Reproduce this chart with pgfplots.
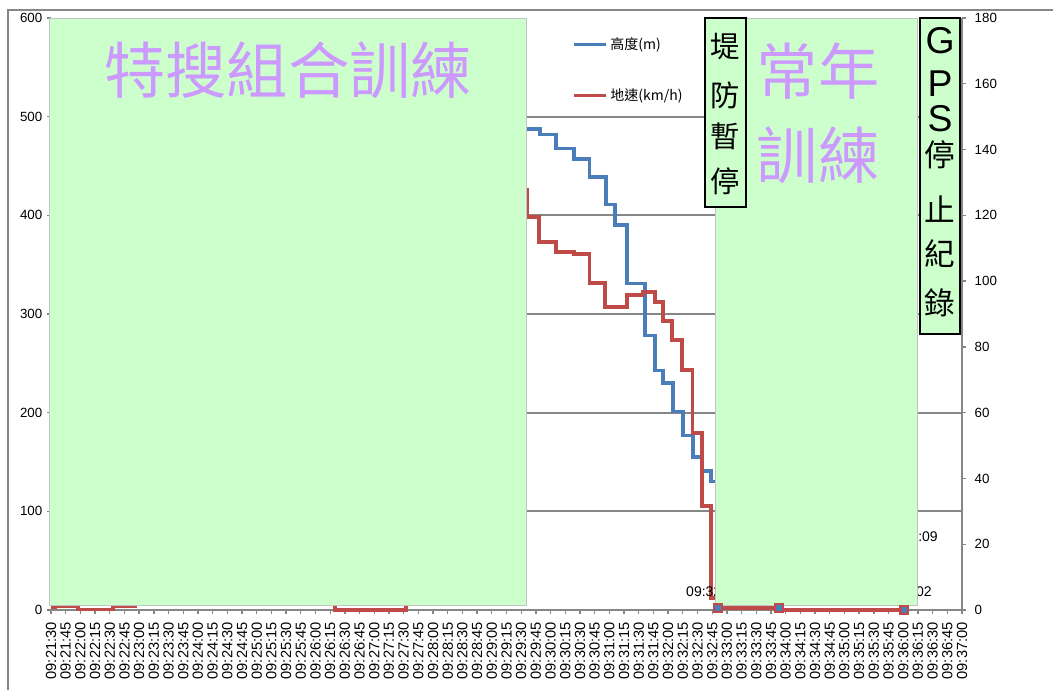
\documentclass[border=0pt]{standalone}
\usepackage{pgfplots}
\pgfplotsset{compat=1.18}
\usepackage{fontspec}
\setmainfont{Liberation Sans}
\newfontfamily\cjk{Noto Sans CJK TC}
\definecolor{bl}{RGB}{74,126,187}
\definecolor{rd}{RGB}{190,75,72}
\definecolor{gr}{RGB}{204,255,204}
\definecolor{pu}{RGB}{204,153,255}
\definecolor{gy}{RGB}{134,134,134}
\pgfplotsset{
  myaxis/.style={at={(38.25pt,59.25pt)}, anchor=south west, scale only axis,
    width=683.25pt, height=444pt, xmin=0, xmax=930},
}
\begin{document}
\begin{tikzpicture}
\useasboundingbox (0,0) rectangle (789.75pt,516.75pt);
\draw[gy, line width=1.5pt] (6pt,-5pt) -- (6pt,509.25pt) -- (800pt,509.25pt);
% ---------- left axis: altitude ----------
\begin{axis}[myaxis,
  ymin=0, ymax=600,
  axis x line*=bottom, axis y line*=left,
  x axis line style={gy, line width=1.5pt, -},
  y axis line style={draw=none, -},
  xtick={0,15,...,930},
  xticklabels={09:21:30,09:21:45,09:22:00,09:22:15,09:22:30,09:22:45,09:23:00,09:23:15,09:23:30,09:23:45,09:24:00,09:24:15,09:24:30,09:24:45,09:25:00,09:25:15,09:25:30,09:25:45,09:26:00,09:26:15,09:26:30,09:26:45,09:27:00,09:27:15,09:27:30,09:27:45,09:28:00,09:28:15,09:28:30,09:28:45,09:29:00,09:29:15,09:29:30,09:29:45,09:30:00,09:30:15,09:30:30,09:30:45,09:31:00,09:31:15,09:31:30,09:31:45,09:32:00,09:32:15,09:32:30,09:32:45,09:33:00,09:33:15,09:33:30,09:33:45,09:34:00,09:34:15,09:34:30,09:34:45,09:35:00,09:35:15,09:35:30,09:35:45,09:36:00,09:36:15,09:36:30,09:36:45,09:37:00},
  ytick={0,100,...,600},
  tick align=outside, major tick length=3pt,
  tick style={gy, line width=1pt},
  xticklabel shift=4pt,
  xticklabel style={rotate=90, anchor=east, font=\fontsize{11}{12}\selectfont, inner sep=2pt},
  yticklabel style={font=\fontsize{10}{12}\selectfont},
  /pgf/number format/assume math mode=true,
  extra y ticks={100,200,300,400,500}, extra y tick labels={},
  extra y tick style={grid=major, major tick length=0pt, major grid style={gy, line width=1.3pt}},
]
\addplot[bl, line width=2.6pt, const plot, mark=none] coordinates {
(440,487.5)(499,482)(515.5,468)(534,457)(550,439)(566.6,411)(575.7,390)(588,331)
(606.4,278)(616.6,243)(624.7,230)(634.9,201)(645.2,177)(655.4,155)(664.6,141)(673.8,130)(681,1)};
\end{axis}
% ---------- right axis: ground speed ----------
\begin{axis}[myaxis,
  ymin=0, ymax=180,
  axis y line*=right, axis x line=none,
  y axis line style={gy, line width=1.5pt, -},
  ytick={0,20,...,180},
  tick align=outside, major tick length=3pt,
  tick style={gy, line width=1pt},
  yticklabel style={font=\fontsize{10}{12}\selectfont, xshift=3pt},
  /pgf/number format/assume math mode=true,
  clip=false,
  legend style={at={(rel axis cs:0.572,0.972)}, anchor=north west, draw=none, fill=none,
    font=\cjk\fontsize{10.5}{12}\selectfont, row sep=24pt, inner sep=0pt,
    cells={anchor=west}},
  legend image code/.code={\draw[#1] (0pt,0pt) -- (24pt,0pt);},
]
\addlegendimage{bl, line width=2.6pt}
\addlegendentry{高度(m)}
\addlegendimage{rd, line width=2.6pt}
\addlegendentry{地速(km/h)}
\addplot[rd, line width=2.6pt, const plot, mark=none, forget plot] coordinates {
(0,0.9)(4,1.2)(27.6,0.1)(63.3,1.2)(85.7,40)(290,0)(362.4,90)(440,127.7)
(486,119.5)(498,111.9)(515.5,108.9)(534,108.2)(550,99.4)(565.5,92.1)(588,95.8)(604.3,96.7)
(616.5,93.6)(624.7,87.9)(634,82.1)(644,73.0)(655,53.8)(664.6,31.6)(673.8,3.6)(681,0.6)(743,0)(871,0)};
% data labels (partly covered)
\node[anchor=west, font=\fontsize{10.5}{12}\selectfont, inner sep=0pt] at (rel axis cs:0.697,0.0304) {09:32:56};
\node[anchor=east, font=\fontsize{10.5}{12}\selectfont, inner sep=0pt] at (rel axis cs:0.9737,0.1233) {09:36:09};
\node[anchor=east, font=\fontsize{10.5}{12}\selectfont, inner sep=0pt] at (rel axis cs:0.9671,0.0304) {09:36:02};
% green areas
\filldraw[fill=gr, draw=gy!50, line width=0.4pt] (rel axis cs:-0.0022,0.00845) rectangle (rel axis cs:0.5214,1);
\filldraw[fill=gr, draw=gy!50, line width=0.4pt] (rel axis cs:0.7289,0.00845) rectangle (rel axis cs:0.9506,1);
\filldraw[fill=gr, draw=black, line width=1.5pt] (rel axis cs:0.7179,0.6807) rectangle (rel axis cs:0.7629,1);
\filldraw[fill=gr, draw=black, line width=1.5pt] (rel axis cs:0.9539,0.4662) rectangle (rel axis cs:0.9978,1);
% big labels
\node[pu, font=\cjk\fontsize{46}{46}\selectfont, inner sep=0pt] at (rel axis cs:0.2602,0.9122) {特搜組合訓練};
\node[pu, font=\cjk\fontsize{46}{46}\selectfont, inner sep=0pt] at (rel axis cs:0.842,0.9105) {常年};
\node[pu, font=\cjk\fontsize{46}{46}\selectfont, inner sep=0pt] at (rel axis cs:0.842,0.7686) {訓練};
% box 1
\node[font=\cjk\fontsize{22}{22}\selectfont, inner sep=0pt] at (rel axis cs:0.7398,0.951) {堤};
\node[font=\cjk\fontsize{22}{22}\selectfont, inner sep=0pt] at (rel axis cs:0.7398,0.870) {防};
\node[font=\cjk\fontsize{22}{22}\selectfont, inner sep=0pt] at (rel axis cs:0.7398,0.8007) {暫};
\node[font=\cjk\fontsize{22}{22}\selectfont, inner sep=0pt] at (rel axis cs:0.7398,0.7247) {停};
% box 2
\node[font=\fontsize{28}{28}\selectfont, inner sep=0pt] at (rel axis cs:0.9759,0.961) {G};
\node[font=\fontsize{28}{28}\selectfont, inner sep=0pt] at (rel axis cs:0.9759,0.8885) {P};
\node[font=\fontsize{28}{28}\selectfont, inner sep=0pt] at (rel axis cs:0.9759,0.8294) {S};
\node[font=\cjk\fontsize{23}{23}\selectfont, inner sep=0pt] at (rel axis cs:0.9759,0.7686) {停};
\node[font=\cjk\fontsize{23}{23}\selectfont, inner sep=0pt] at (rel axis cs:0.9759,0.6774) {止};
\node[font=\cjk\fontsize{23}{23}\selectfont, inner sep=0pt] at (rel axis cs:0.9759,0.6014) {紀};
\node[font=\cjk\fontsize{23}{23}\selectfont, inner sep=0pt] at (rel axis cs:0.9759,0.5186) {錄};
% red markers
\addplot[only marks, mark=square, mark size=2.8pt, mark options={rd, line width=1.6pt}, forget plot] coordinates {(681,0.6)(743,0.6)(871,0)};
\end{axis}
% ---------- blue markers on altitude scale ----------
\begin{axis}[myaxis, ymin=0, ymax=600, hide axis, clip=false]
\addplot[only marks, mark=square*, mark size=1.8pt, mark options={bl}] coordinates {(681,2)(743,2)(871,0)};
\end{axis}
\end{tikzpicture}
\end{document}
